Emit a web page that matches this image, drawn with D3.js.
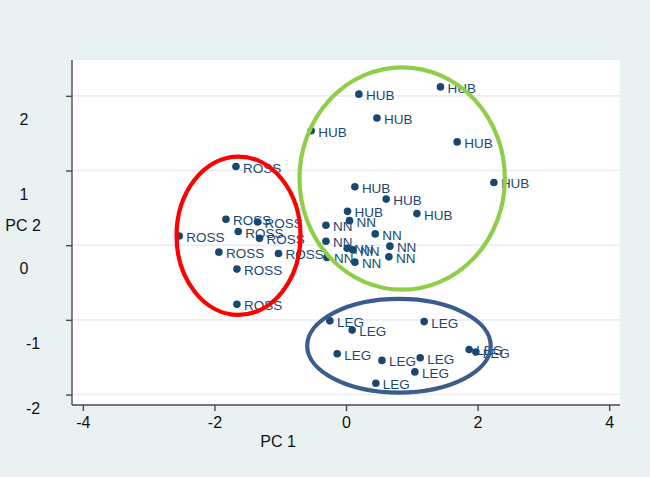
<!DOCTYPE html>
<html>
<head>
<meta charset="utf-8">
<script src="https://cdn.jsdelivr.net/npm/d3@7"></script>
<style>
  html, body { margin: 0; padding: 0; background: #eaf1f3; }
  text { font-family: "Liberation Sans", Arial, sans-serif; }
</style>
</head>
<body>
<svg id="chart" width="650" height="477"></svg>
<script>
// ---- data (PC1, PC2) ----
const rossPoints = [
  [-1.673, 1.053], [-1.825, 0.347], [-1.345, 0.311], [-1.638, 0.183], [-2.535, 0.124],
  [-1.315, 0.093], [-1.932, -0.093], [-1.026, -0.111], [-1.658, -0.320], [-1.658, -0.791]
];
const hubPoints = [
  [0.196, 2.023], [1.436, 2.120], [0.470, 1.703], [-0.529, 1.533], [1.690, 1.383],
  [2.248, 0.840], [0.135, 0.783], [0.611, 0.617], [0.023, 0.453], [1.078, 0.423]
];
const nnPoints = [
  [0.053, 0.329], [-0.305, 0.267], [0.444, 0.151], [-0.305, 0.053], [0.018, -0.040],
  [0.105, -0.063], [0.667, -0.013], [-0.290, -0.164], [0.135, -0.227], [0.652, -0.156]
];
const legPoints = [
  [-0.245, -1.013], [0.094, -1.137], [1.188, -1.023], [-0.134, -1.453], [0.546, -1.543],
  [1.128, -1.507], [1.047, -1.697], [0.454, -1.849], [1.872, -1.396], [1.974, -1.431]
];
const groupNames = ["ROSS", "HUB", "NN", "LEG"];
// ellipses: [cx, cy, rx, ry]
const ellipseRoss = [-1.634, 0.127, 0.942, 1.060];
const ellipseHub  = [0.854, 0.893, 1.561, 1.489];
const ellipseLeg  = [0.805, -1.347, 1.395, 0.627];
const ellipseColors = ["#ff0000", "#8fce48", "#3a5d8c"];
const xTicks = [-4, -2, 0, 2, 4];
const yTicks = [-2, -1, 0, 1, 2];
const xTitle = "PC 1";
const yTitle = "PC 2";

// ---- layout ----
const svg = d3.select("#chart");
const pL = 72, pR = 620, pT = 60, pB = 405;
const x = d3.scaleLinear().domain([-4.165, 4.165]).range([pL, pR]);
const y = d3.scaleLinear().domain([-2.14, 2.48]).range([pB, pT]);

svg.append("rect").attr("x", 0).attr("y", 0).attr("width", 650).attr("height", 477).attr("fill", "#eaf1f3");
svg.append("rect").attr("x", pL).attr("y", pT).attr("width", pR - pL).attr("height", pB - pT).attr("fill", "#ffffff");

// gridlines
svg.append("g").selectAll("line").data(yTicks).join("line")
  .attr("x1", pL).attr("x2", pR)
  .attr("y1", d => y(d)).attr("y2", d => y(d))
  .attr("stroke", "#e6eff2").attr("stroke-width", 1.6);

// axes
const axisColor = "#4a4a4a";
const xAxis = svg.append("g").attr("transform", `translate(0,${pB})`)
  .call(d3.axisBottom(x).tickValues(xTicks).tickSize(6).tickFormat(d3.format("d")));
const yAxis = svg.append("g").attr("transform", `translate(${pL},0)`)
  .call(d3.axisLeft(y).tickValues(yTicks).tickSize(6).tickFormat(""));
[xAxis, yAxis].forEach(a => {
  a.select(".domain").attr("stroke", axisColor).attr("stroke-width", 1.4);
  a.selectAll(".tick line").attr("stroke", axisColor).attr("stroke-width", 1.4);
});
yAxis.select(".domain").attr("d", `M0,${pT}V${pB}`);
xAxis.select(".domain").attr("d", `M${pL},0H${pR}`);
xAxis.selectAll(".tick text")
  .attr("y", 12).attr("dy", "0.71em")
  .attr("font-size", 16).attr("fill", "#111")
  .style("font-family", "'Liberation Sans', Arial, sans-serif")
  .text(d => d < 0 ? "-" + Math.abs(d) : String(d));

// y tick labels (shifted below ticks as in the original export)
svg.append("g").selectAll("text").data(yTicks).join("text")
  .attr("x", d => d < 0 ? 33 : 24)
  .attr("y", d => Math.min(y(d) + 23, 408) + 6)
  .attr("text-anchor", "middle")
  .attr("font-size", 16).attr("fill", "#111")
  .text(d => d < 0 ? "-" + Math.abs(d) : String(d));

// axis titles
svg.append("text").attr("x", 23).attr("y", 231).attr("text-anchor", "middle")
  .attr("font-size", 16).attr("fill", "#111").text(yTitle);
svg.append("text").attr("x", 278).attr("y", 447).attr("text-anchor", "middle")
  .attr("font-size", 16).attr("fill", "#111").text(xTitle);

// points + labels
const markerColor = "#1a476f";
const groups = [rossPoints, hubPoints, nnPoints, legPoints];
const pts = svg.append("g");
groups.forEach((arr, gi) => {
  const g = pts.append("g");
  g.selectAll("circle").data(arr).join("circle")
    .attr("cx", d => x(d[0])).attr("cy", d => y(d[1])).attr("r", 3.8)
    .attr("fill", markerColor);
  g.selectAll("text").data(arr).join("text")
    .attr("x", d => x(d[0]) + 7).attr("y", d => y(d[1]) + 6)
    .attr("font-size", 13.5).attr("fill", markerColor)
    .text(groupNames[gi]);
});

// ellipses
const ells = [ellipseRoss, ellipseHub, ellipseLeg];
svg.append("g").selectAll("ellipse").data(ells).join("ellipse")
  .attr("cx", d => x(d[0])).attr("cy", d => y(d[1]))
  .attr("rx", d => x(d[0] + d[2]) - x(d[0]))
  .attr("ry", d => y(d[1] - d[3]) - y(d[1]))
  .attr("fill", "none")
  .attr("stroke", (d, i) => ellipseColors[i])
  .attr("stroke-width", 4.2);
</script>
</body>
</html>
